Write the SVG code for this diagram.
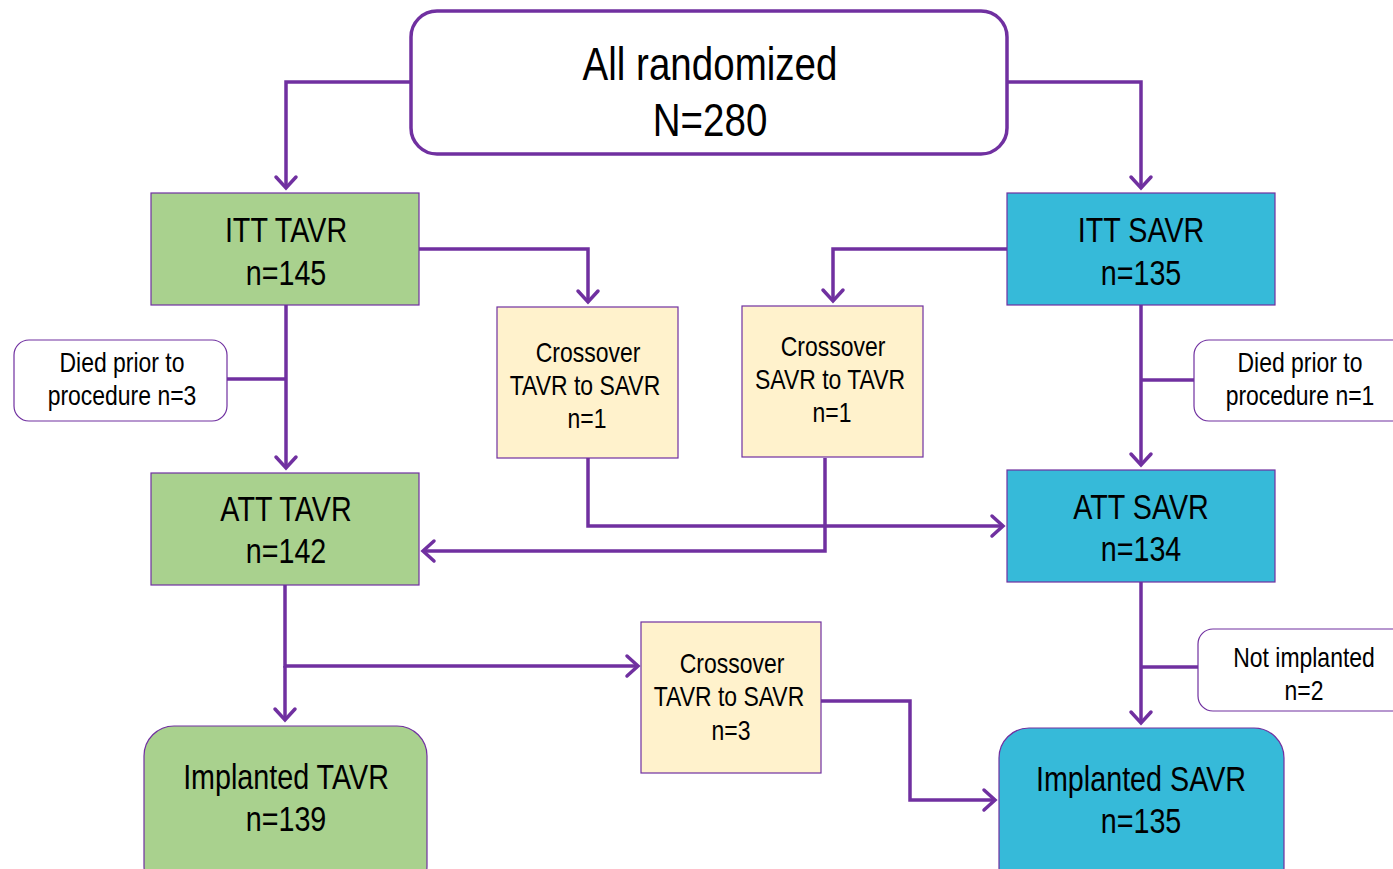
<svg xmlns="http://www.w3.org/2000/svg" width="1393" height="869" viewBox="0 0 1393 869">
  <style>
    text { font-family: "Liberation Sans", Arial, sans-serif; fill: #000; text-anchor: middle; }
    .big { font-size: 47px; }
    .main { font-size: 35px; }
    .small { font-size: 28px; }
    .green { fill: #A9D18E; stroke: #7030A0; stroke-width: 1.2; }
    .blue { fill: #36BAD9; stroke: #7030A0; stroke-width: 1.2; }
    .cross { fill: #FFF2CC; stroke: #7030A0; stroke-width: 1.2; }
    .note { fill: #FFFFFF; stroke: #7030A0; stroke-width: 1.2; }
    .link { fill: none; stroke: #7030A0; stroke-width: 3.5; }
    .arrow { marker-end: url(#head); }
  </style>
  <defs>
    <marker id="head" markerUnits="userSpaceOnUse" markerWidth="30" markerHeight="30" refX="15" refY="15" orient="auto" overflow="visible">
      <path d="M4 5 L15 15 L4 25" fill="none" stroke="#7030A0" stroke-width="3.5" stroke-linecap="round" stroke-linejoin="miter"/>
    </marker>
  </defs>

  <rect width="1393" height="869" fill="#FFFFFF"/>

  <!-- connectors -->
  <g id="connectors">
    <path class="link arrow" d="M411 82 H286 V188"/>
    <path class="link arrow" d="M1007 82 H1141 V188"/>
    <path class="link arrow" d="M419 249 H588 V302"/>
    <path class="link arrow" d="M1007 249 H833 V301"/>
    <path class="link arrow" d="M286 305 V468"/>
    <path class="link" d="M227 379 H286"/>
    <path class="link arrow" d="M1141 305 V465"/>
    <path class="link" d="M1141 380 H1194"/>
    <path class="link arrow" d="M588 458 V526 H1003"/>
    <path class="link arrow" d="M825 458 V551 H423"/>
    <path class="link arrow" d="M285 585 V666 H638"/>
    <path class="link arrow" d="M285 666 V720"/>
    <path class="link arrow" d="M821 701 H910 V800 H995"/>
    <path class="link arrow" d="M1141 582 V723"/>
    <path class="link" d="M1141 667 H1198"/>
  </g>

  <!-- all randomized -->
  <g id="all-randomized">
    <rect x="411" y="11" width="596" height="143" rx="26" fill="#FFFFFF" stroke="#7030A0" stroke-width="3.5"/>
    <text class="big" transform="translate(710 80) scale(0.82 1)">All randomized</text>
    <text class="big" transform="translate(710 136) scale(0.82 1)">N=280</text>
  </g>

  <g id="itt-tavr">
    <rect class="green" x="151" y="193" width="268" height="112"/>
    <text class="main" transform="translate(286 242) scale(0.82 1)">ITT TAVR</text>
    <text class="main" transform="translate(286 285) scale(0.82 1)">n=145</text>
  </g>

  <g id="itt-savr">
    <rect class="blue" x="1007" y="193" width="268" height="112"/>
    <text class="main" transform="translate(1141 242) scale(0.82 1)">ITT SAVR</text>
    <text class="main" transform="translate(1141 285) scale(0.82 1)">n=135</text>
  </g>

  <g id="crossover-tavr-savr-1">
    <rect class="cross" x="497" y="307" width="181" height="151"/>
    <text class="small" transform="translate(588 362) scale(0.82 1)">Crossover</text>
    <text class="small" transform="translate(585 395) scale(0.82 1)">TAVR to SAVR</text>
    <text class="small" transform="translate(587 428) scale(0.82 1)">n=1</text>
  </g>

  <g id="crossover-savr-tavr-1">
    <rect class="cross" x="742" y="306" width="181" height="151"/>
    <text class="small" transform="translate(833 356) scale(0.82 1)">Crossover</text>
    <text class="small" transform="translate(830 389) scale(0.82 1)">SAVR to TAVR</text>
    <text class="small" transform="translate(832 422) scale(0.82 1)">n=1</text>
  </g>

  <g id="died-tavr">
    <rect class="note" x="14" y="340" width="213" height="81" rx="15"/>
    <text class="small" transform="translate(122 372) scale(0.82 1)">Died prior to</text>
    <text class="small" transform="translate(122 405) scale(0.82 1)">procedure n=3</text>
  </g>

  <g id="died-savr">
    <rect class="note" x="1194" y="340" width="215" height="81" rx="15"/>
    <text class="small" transform="translate(1300 372) scale(0.82 1)">Died prior to</text>
    <text class="small" transform="translate(1300 405) scale(0.82 1)">procedure n=1</text>
  </g>

  <g id="att-tavr">
    <rect class="green" x="151" y="473" width="268" height="112"/>
    <text class="main" transform="translate(286 521) scale(0.82 1)">ATT TAVR</text>
    <text class="main" transform="translate(286 563) scale(0.82 1)">n=142</text>
  </g>

  <g id="att-savr">
    <rect class="blue" x="1007" y="470" width="268" height="112"/>
    <text class="main" transform="translate(1141 519) scale(0.82 1)">ATT SAVR</text>
    <text class="main" transform="translate(1141 561) scale(0.82 1)">n=134</text>
  </g>

  <g id="crossover-tavr-savr-3">
    <rect class="cross" x="641" y="622" width="180" height="151"/>
    <text class="small" transform="translate(732 673) scale(0.82 1)">Crossover</text>
    <text class="small" transform="translate(729 706) scale(0.82 1)">TAVR to SAVR</text>
    <text class="small" transform="translate(731 740) scale(0.82 1)">n=3</text>
  </g>

  <g id="not-implanted">
    <rect class="note" x="1198" y="629" width="215" height="82" rx="15"/>
    <text class="small" transform="translate(1304 667) scale(0.82 1)">Not implanted</text>
    <text class="small" transform="translate(1304 700) scale(0.82 1)">n=2</text>
  </g>

  <g id="implanted-tavr">
    <rect class="green" x="144" y="726" width="283" height="170" rx="30"/>
    <text class="main" transform="translate(286 789) scale(0.82 1)">Implanted TAVR</text>
    <text class="main" transform="translate(286 831) scale(0.82 1)">n=139</text>
  </g>

  <g id="implanted-savr">
    <rect class="blue" x="999" y="728" width="285" height="170" rx="30"/>
    <text class="main" transform="translate(1141 791) scale(0.82 1)">Implanted SAVR</text>
    <text class="main" transform="translate(1141 833) scale(0.82 1)">n=135</text>
  </g>
</svg>
